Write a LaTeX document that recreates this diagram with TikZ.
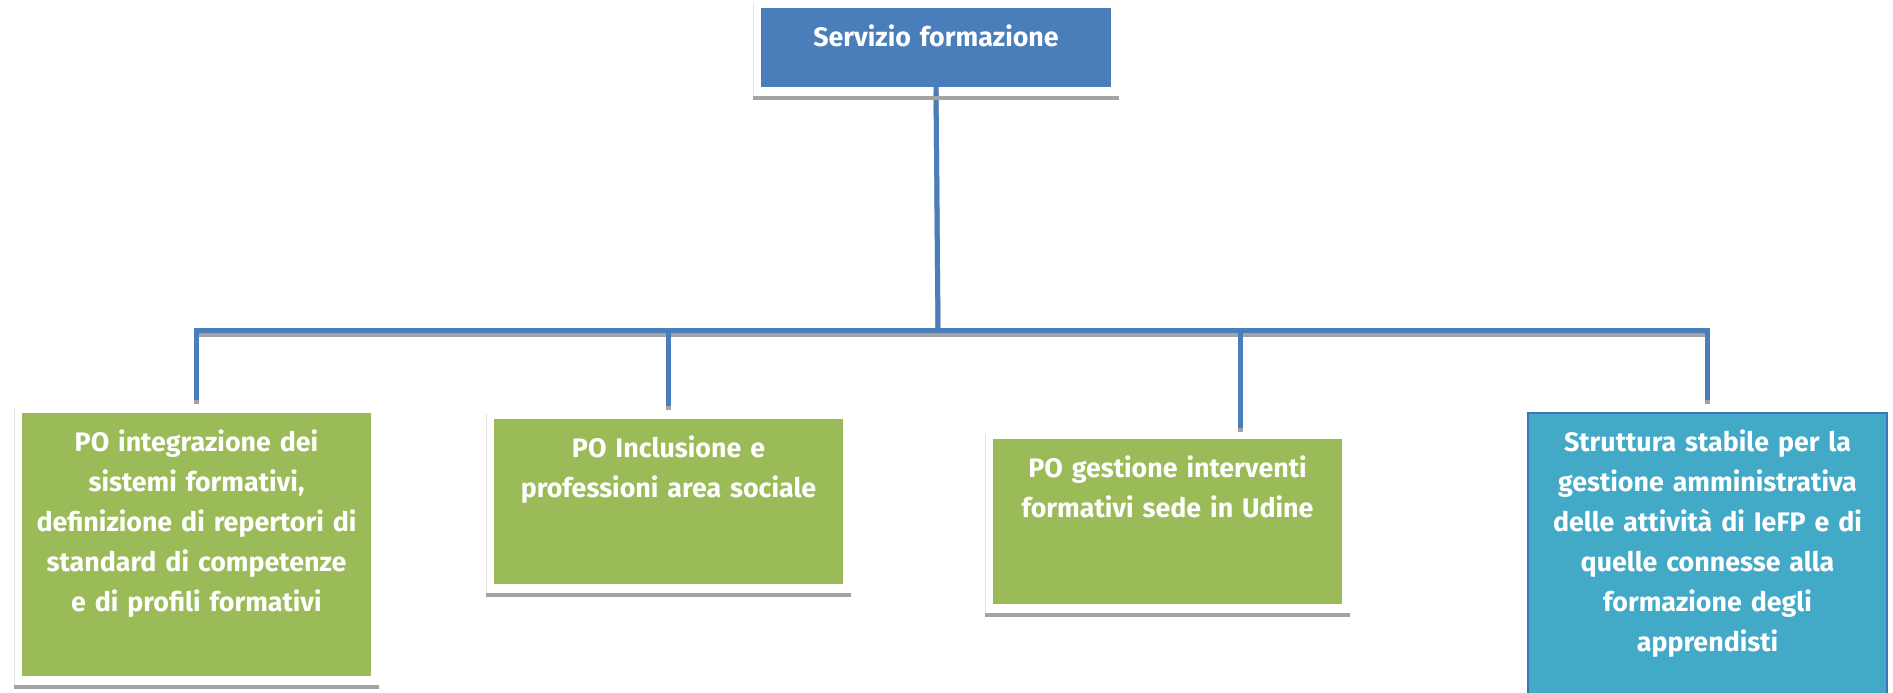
\documentclass[tikz,border=0pt]{standalone}
\usepackage{fontspec}
\setmainfont{Fira Sans}
\usetikzlibrary{positioning}
\definecolor{capoblue}{HTML}{4A7EBB}
\definecolor{pogreen}{HTML}{9BBB59}
\definecolor{ieteal}{HTML}{42A9C7}
\definecolor{tealedge}{HTML}{4172B5}
\definecolor{linkblue}{HTML}{4A7EBB}
\definecolor{shadegray}{HTML}{A3A3A3}
\definecolor{faintgray}{HTML}{E3E3E3}
\begin{document}
\begin{tikzpicture}[x=0.5pt, y=-0.5pt, every node/.style={inner sep=0pt, outer sep=0pt},
                  unit/.style={rectangle, minimum width=174.5pt},
                  lbl/.style={anchor=north, text width=172pt, align=center, text=white,
                  font=\bfseries\fontsize{13.4}{20}\selectfont, execute at begin node=\strut},
                  conn/.style={draw=linkblue, line width=2.5pt,
                  preaction={draw=shadegray, line width=2.5pt, transform canvas={yshift=-2pt}}},
                  ground/.style={draw=shadegray, line width=2pt}]
              \useasboundingbox (0,0) rectangle (1893,692);
              \node[unit, fill=capoblue, minimum width=175pt, minimum height=39.5pt] (top) at (936,47.5) {};
              \node[unit, fill=pogreen, minimum height=131.5pt] (b1) at (196.5,544.5) {};
              \node[unit, fill=pogreen, minimum height=82.5pt] (b2) at (668.5,501.5) {};
              \node[unit, fill=pogreen, minimum height=82.5pt] (b3) at (1167.5,521.5) {};
              \node[unit, fill=ieteal, draw=tealedge, line width=1pt, minimum width=179.5pt,
                    minimum height=143.5pt] (b4) at (1707.5,556.5) {};
              \node[lbl] (t0) at ([yshift=-5pt]top.north) {Servizio formazione};
              \node[lbl] (t1) at ([yshift=-5pt]b1.north) {PO integrazione dei\\sistemi formativi,\\definizione di repertori di\\standard di competenze\\e di profili formativi};
              \node[lbl] (t2) at ([yshift=-5pt]b2.north) {PO Inclusione e\\professioni area sociale};
              \node[lbl] (t3) at ([yshift=-5pt]b3.north) {PO gestione interventi\\formativi sede in Udine};
              \node[lbl] (t4) at ([yshift=-5pt]b4.north) {Struttura stabile per la\\gestione amministrativa\\delle attività di IeFP e di\\quelle connesse alla\\formazione degli\\apprendisti};
              \coordinate (hub) at (938,330);
              \coordinate (c3) at (1240,428);
              \draw[conn] (top.south) -- (hub);
              \draw[conn, line cap=rect] (b1.north |- hub) -- (b4.north |- hub);
              \draw[conn] (b1.north |- hub) -- ([yshift=6.5pt]b1.north);
              \draw[conn] (b2.north |- hub) -- ([yshift=6.5pt]b2.north);
              \draw[conn] (c3 |- hub) -- (c3);
              \draw[conn] (b4.north |- hub) -- ([yshift=6.5pt]b4.north);
              \foreach \b in {top,b1,b2,b3} {
                \draw[ground] ([xshift=-4pt,yshift=-5.5pt]\b.south west) -- ([xshift=4pt,yshift=-5.5pt]\b.south east);
                \draw[faintgray, line width=0.5pt] ([xshift=-4pt,yshift=-4.5pt]\b.south west) -- ([xshift=-4pt,yshift=2.5pt]\b.north west);
              }
          \end{tikzpicture}
\end{document}
